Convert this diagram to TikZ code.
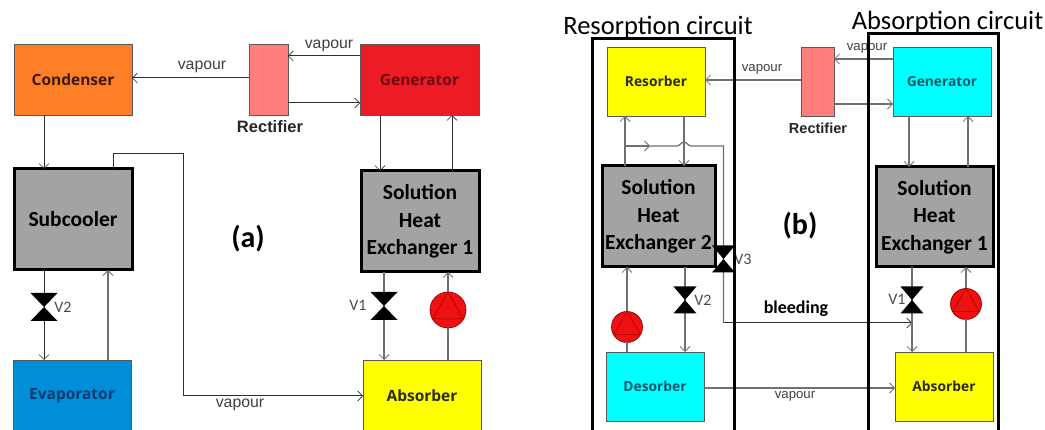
\documentclass[tikz,border=0pt]{standalone}
\usepackage{fontspec}
\setmainfont{Carlito}
\newfontfamily\blockfont{Open Sans}
\newfontfamily\labelfont{Liberation Sans}
\usetikzlibrary{arrows.meta}
\definecolor{cOrange}{HTML}{FF7F27}
\definecolor{cRect}{HTML}{FF7F7F}
\definecolor{cRed}{HTML}{ED1C24}
\definecolor{cGrey}{HTML}{A3A3A3}
\definecolor{cBlue}{HTML}{008ED8}
\definecolor{cYellow}{HTML}{FFFF00}
\definecolor{cCyan}{HTML}{00FFFF}
\definecolor{cPump}{HTML}{EE1111}
\definecolor{cLine}{HTML}{303030}
\definecolor{cLineG}{HTML}{707070}
\definecolor{tOrange}{HTML}{3A1A10}
\definecolor{tRed}{HTML}{6A0A12}
\definecolor{tBlue}{HTML}{0A3A70}
\definecolor{tTeal}{HTML}{0A5A68}
\definecolor{tDark}{HTML}{2A2A20}
\tikzset{
  box/.style args={#1/#2/#3}{draw=black!65,line width=0.9pt,fill=#1,minimum width=#2,minimum height=#3,inner sep=0pt,outer sep=0pt,
     font=\blockfont\bfseries\fontsize{15.5}{18}\selectfont,align=center},
  smalltxt/.style={font=\blockfont\bfseries\fontsize{13.8}{16}\selectfont},
  shx/.style args={#1/#2}{draw=black,line width=3pt,fill=cGrey,minimum width=#1,minimum height=#2,inner sep=0pt,outer sep=0pt,
     font=\bfseries\fontsize{21.5}{27.5}\selectfont,align=center,text=black},
  circuit/.style args={#1/#2}{draw=black,line width=3pt,minimum width=#1,minimum height=#2,inner sep=0pt,outer sep=0pt},
  conn/.style={draw=cLine,line width=1pt,-{Straight Barb[length=5pt,width=10pt,line width=0.6pt]}},
  connG/.style={draw=cLineG,line width=1.3pt,-{Straight Barb[length=5pt,width=10pt,line width=0.8pt]}},
  plain/.style={draw=cLine,line width=1pt},
  plainG/.style={draw=cLineG,line width=1.3pt},
  vap/.style={font=\labelfont\fontsize{15.8}{18}\selectfont,text=black!75,inner sep=0pt},
  vapb/.style={font=\labelfont\fontsize{13.2}{15}\selectfont,text=black!75,inner sep=0pt},
  title/.style={font=\fontsize{26.5}{30}\selectfont,inner sep=0pt},
  bigl/.style={font=\bfseries\fontsize{30}{32}\selectfont,inner sep=0pt},
  vl/.style={font=\fontsize{16}{18}\selectfont,text=black!70,inner sep=0pt},
  pump/.style={circle,draw=red!60!black,line width=0.7pt,fill=cPump,minimum size=#1,inner sep=0pt,outer sep=0pt},
  pics/bowtie/.style 2 args={code={
    \fill[black] (-#1,-#2)--(#1,-#2)--(0,0)--cycle;
    \fill[black] (-#1,#2)--(#1,#2)--(0,0)--cycle;}}
}
\newcommand{\pumptri}[1]{\draw[red!65!black,line width=0.5pt] (#1.north)--(#1.-30)--(#1.210)--cycle;}
\begin{document}
\begin{tikzpicture}[x=1pt,y=-1pt]
\useasboundingbox (0,0) rectangle (1045,430);
\clip (0,0) rectangle (1045,430);
\fill[white] (0,0) rectangle (1045,430);
% ---------- (a) ----------
\node[box=cOrange/118pt/71pt,text=tOrange] (cond) at (73,79.5) {Condenser};
\node[box=cRect/39pt/71pt] (rect) at (268.5,79.5) {};
\node[box=cRed/119pt/71pt,text=tRed] (gen) at (419.5,79.5) {Generator};
\node[shx=118pt/101pt] (sub) at (73,219.5) {Subcooler};
\node[shx=118pt/101pt] (she) at (420,221.5) {Solution\\Heat\\Exchanger 1};
\node[box=cBlue/118pt/72pt,text=tBlue] (evap) at (72,396) {Evaporator};
\node[box=cYellow/118pt/72pt,text=tDark] (abs) at (422,396) {Absorber};
\node[pump=36pt] (pa) at (448,310) {};
\pumptri{pa}
\coordinate (va2) at (44,307);
\coordinate (va1) at (384,306);
\coordinate (ca) at (183,154);
\coordinate (cb) at (183,396);
\draw[conn] (rect.west |- 0,78) -- (cond.east |- 0,78);
\draw[conn] (gen.west |- 0,56) -- (rect.east |- 0,56);
\draw[conn] (rect.east |- 0,103) -- (gen.west |- 0,103);
\draw[conn] (380,0 |- gen.south) -- (380,0 |- she.north);
\draw[conn] (452,0 |- she.north) -- (452,0 |- gen.south);
\draw[conn] (44,0 |- cond.south) -- (44,0 |- sub.north);
\draw[conn] (113,0 |- sub.north) |- (ca) -- (cb) -- (abs.west |- cb);
\draw[conn] (va2 |- sub.south) -- (va2 |- evap.north);
\draw[connG] (108,0 |- evap.north) -- (108,0 |- sub.south);
\draw[connG] (va1 |- she.south) -- (va1 |- abs.north);
\draw[plainG] (pa.south) -- (448,0 |- abs.north);
\draw[connG] (pa.north) -- (448,0 |- she.south);
\pic at (va2) {bowtie={13.5}{14}};
\pic at (va1) {bowtie={13.5}{14}};
\node[vl] (lv2) at (63,307) {V2};
\node[vl] (lv1) at (358,305) {V1};
\node[vap] (l1) at (202,67) {vapour};
\node[vap] (l2) at (329,46) {vapour};
\node[vap] (l3) at (240,405) {vapour};
\node[font=\labelfont\bfseries\fontsize{16.5}{18}\selectfont,inner sep=0pt,text=black!85] (l4) at (270,127) {Rectifier};
\node[bigl] (la) at (248,239) {(a)};
% ---------- (b) ----------
\node[box=cYellow/98pt/69pt,text=tDark,smalltxt] (res) at (656,81.5) {Resorber};
\node[box=cRect/33pt/69pt] (rectb) at (817.5,81.5) {};
\node[box=cCyan/98pt/69pt,text=tTeal,smalltxt] (genb) at (942,81.5) {Generator};
\node[shx=113pt/101pt] (she2) at (658.5,216.5) {Solution\\Heat\\Exchanger 2};
\node[shx=117pt/100pt] (sheb) at (934.5,217) {Solution\\Heat\\Exchanger 1};
\node[box=cCyan/98pt/69pt,text=tTeal,smalltxt] (des) at (655,386.5) {Desorber};
\node[box=cYellow/98pt/69pt,text=tDark,smalltxt] (absb) at (944,386.5) {Absorber};
\node[pump=31pt] (pl) at (627,327) {};
\pumptri{pl}
\node[pump=31pt] (pr) at (966,304) {};
\pumptri{pr}
\coordinate (vb2) at (685,300);
\coordinate (vb3) at (723.5,259);
\coordinate (vb1) at (912,300);
\coordinate (br) at (625,146);
\coordinate (bm) at (650,146);
\coordinate (b1) at (677,146);
\coordinate (b2) at (691,146);
\coordinate (bc) at (684,142);
\coordinate (bd) at (723.5,146);
\coordinate (be) at (723.5,323);
\coordinate (bf) at (912,323);
\draw[connG] (rectb.west |- 0,80) -- (res.east |- 0,80);
\draw[connG] (genb.west |- 0,59) -- (rectb.east |- 0,59);
\draw[connG] (rectb.east |- 0,104) -- (genb.west |- 0,104);
\draw[connG] (909,0 |- genb.south) -- (909,0 |- sheb.north);
\draw[connG] (968,0 |- sheb.north) -- (968,0 |- genb.south);
\draw[connG] (625,0 |- she2.north) -- (625,0 |- res.south);
\draw[connG] (684,0 |- res.south) -- (684,0 |- she2.north);
\draw[connG] (br) -- (bm);
\draw[plainG] (bm) -- (b1) .. controls (680,146) and (681,142) .. (bc) .. controls (687,142) and (688,146) .. (b2) -- (bd) -- (be);
\draw[conn] (be) -- (bf);
\draw[connG] (vb1 |- sheb.south) -- (vb1 |- absb.north);
\draw[connG] (vb2 |- she2.south) -- (vb2 |- des.north);
\draw[plainG] (627,0 |- des.north) -- (pl.south);
\draw[connG] (pl.north) -- (627,0 |- she2.south);
\draw[plainG] (966,0 |- absb.north) -- (pr.south);
\draw[connG] (pr.north) -- (966,0 |- sheb.south);
\draw[connG] (des.east |- 0,388) -- (absb.west |- 0,388);
\pic at (vb2) {bowtie={11.5}{13.5}};
\pic at (vb1) {bowtie={11.5}{13.5}};
\node[vl] (lvb2) at (703,300) {V2};
\node[vl] (lvb1) at (897,299) {V1};
\node[vl] (lvb3) at (743,259) {V3};
\node[vapb] (lb1) at (762,69) {vapour};
\node[vapb] (lb2) at (867,48) {vapour};
\node[vapb] (lb3) at (795,396) {vapour};
\node[font=\labelfont\bfseries\fontsize{14.5}{16}\selectfont,inner sep=0pt,text=black!85] (lb4) at (818,128) {Rectifier};
\node[font=\bfseries\fontsize{18}{20}\selectfont,inner sep=0pt] (lbl) at (796,309) {bleeding};
\node[bigl] (lbb) at (800,226) {(b)};
% circuits
\node[circuit=142pt/420pt] (rc) at (663,249) {};
\node[circuit=130pt/420pt] (ac) at (933,244) {};
\pic at (vb3) {bowtie={11.5}{13.5}};
\node[title] (tr) at (658,27) {Resorption circuit};
\node[title] (ta) at (947.5,22) {Absorption circuit};
\end{tikzpicture}
\end{document}
